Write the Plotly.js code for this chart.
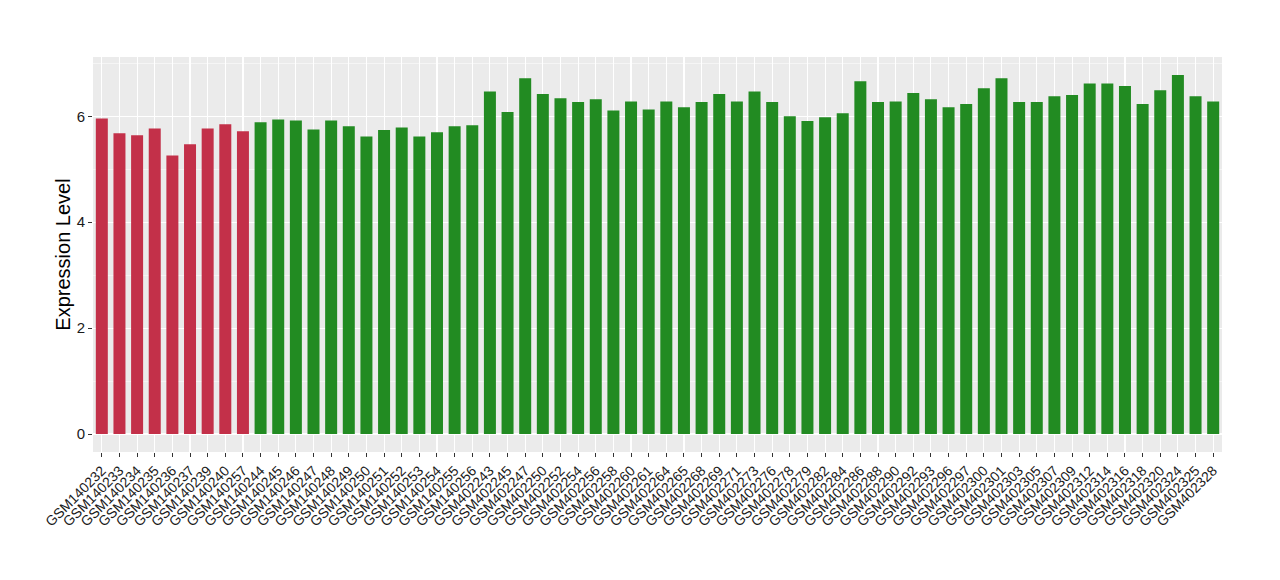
<!DOCTYPE html>
<html>
<head>
<meta charset="utf-8">
<script src="https://cdn.plot.ly/plotly-3.0.1.min.js"></script>
<style>html,body{margin:0;padding:0;background:#fff;}#chart{width:1280px;height:580px;}</style>
</head>
<body>
<div id="chart"></div>
<script>
const samples = ["GSM140232","GSM140233","GSM140234","GSM140235","GSM140236","GSM140237","GSM140239","GSM140240","GSM140257",
"GSM140244","GSM140245","GSM140246","GSM140247","GSM140248","GSM140249","GSM140250","GSM140251","GSM140252","GSM140253","GSM140254","GSM140255","GSM140256",
"GSM402243","GSM402245","GSM402247","GSM402250","GSM402252","GSM402254","GSM402256","GSM402258","GSM402260","GSM402261","GSM402264","GSM402265","GSM402268","GSM402269","GSM402271","GSM402273","GSM402276","GSM402278","GSM402279","GSM402282","GSM402284","GSM402286","GSM402288","GSM402290","GSM402292","GSM402293","GSM402296","GSM402297","GSM402300","GSM402301","GSM402303","GSM402305","GSM402307","GSM402309","GSM402312","GSM402314","GSM402316","GSM402318","GSM402320","GSM402324","GSM402325","GSM402328"];
const values = [5.96,5.68,5.64,5.77,5.26,5.47,5.77,5.85,5.72,
5.89,5.94,5.92,5.75,5.92,5.81,5.62,5.74,5.79,5.62,5.70,5.81,5.83,
6.47,6.08,6.72,6.42,6.34,6.27,6.32,6.11,6.28,6.13,6.28,6.17,6.27,6.42,6.28,6.47,6.27,6.00,5.91,5.98,6.06,6.66,6.27,6.28,6.44,6.32,6.17,6.23,6.53,6.72,6.27,6.27,6.38,6.40,6.62,6.62,6.57,6.23,6.49,6.78,6.38,6.28];
const groups = samples.map((s,i)=> i<9 ? "red" : "green");
const groupColors = {red:"#C33049", green:"#228B22"};
const yTicks = [0,2,4,6];

const trace = {
  type: "bar",
  x: samples,
  y: values,
  marker: {color: groups.map(g=>groupColors[g]), line:{width:0}},
  hoverinfo: "x+y"
};
const layout = {
  width: 1280, height: 580,
  margin: {l: 93, r: 58, t: 57, b: 128},
  paper_bgcolor: "#ffffff",
  plot_bgcolor: "#EBEBEB",
  bargap: 0.32,
  showlegend: false,
  font: {family: "Liberation Sans, Arial, sans-serif", color: "#1a1a1a"},
  xaxis: {
    type: "category",
    tickmode: "array",
    tickvals: samples,
    ticktext: samples,
    tickangle: -45,
    tickfont: {size: 14, color: "#1a1a1a"},
    showgrid: true, gridcolor: "#ffffff", gridwidth: 1.1,
    ticks: "outside", ticklen: 4, tickcolor: "#333333", tickwidth: 1,
    zeroline: false, showline: false,
    automargin: false
  },
  yaxis: {
    range: [-0.34, 7.12],
    tickvals: yTicks,
    ticktext: yTicks.map(String),
    tickfont: {size: 15, color: "#1a1a1a"},
    showgrid: true, gridcolor: "#ffffff", gridwidth: 1.1,
    minor: {tickvals: [1,3,5,7], showgrid: true, gridcolor: "#ffffff", gridwidth: 0.5, ticks: ""},
    ticks: "outside", ticklen: 4, tickcolor: "#333333", tickwidth: 1,
    zeroline: false, showline: false,
    title: {text: "Expression Level", font: {size: 20, color: "#000000"}, standoff: 0},
    automargin: false
  }
};
Plotly.newPlot("chart", [trace], layout, {displayModeBar: false, staticPlot: true});
</script>
</body>
</html>
